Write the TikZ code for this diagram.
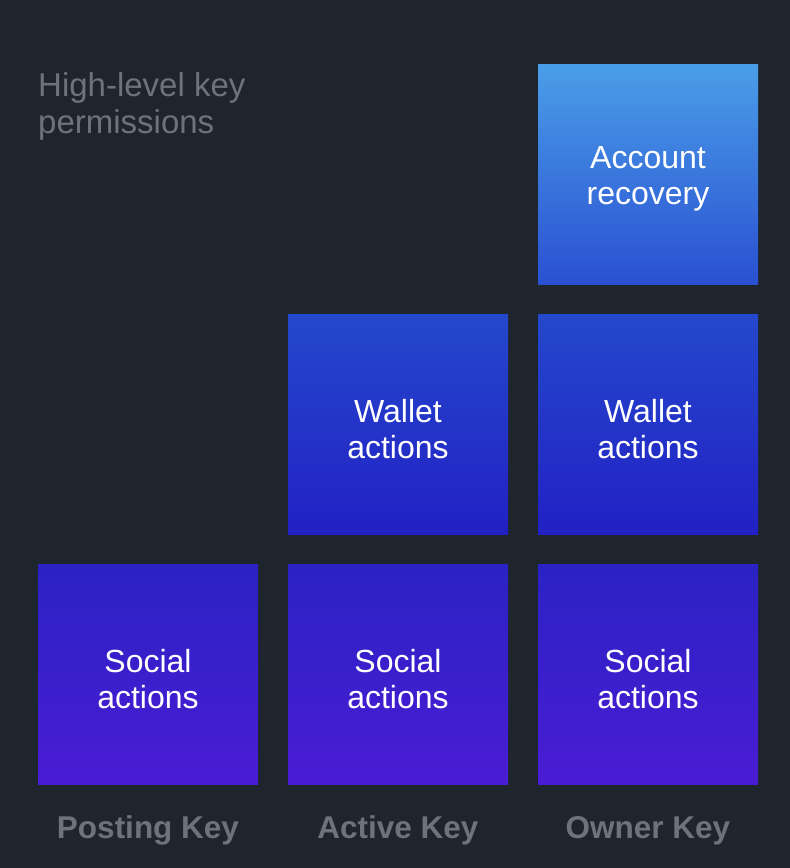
\documentclass[tikz,border=0pt]{standalone}
\usepackage{fontspec}
\setmainfont{Liberation Sans}
\definecolor{bg}{HTML}{1F252C}
\definecolor{lbl}{HTML}{6C737A}
\definecolor{aTop}{HTML}{4A9EE8}
\definecolor{aBot}{HTML}{2A50D2}
\definecolor{wTop}{HTML}{2448CC}
\definecolor{wBot}{HTML}{2220C4}
\definecolor{sTop}{HTML}{2A22C4}
\definecolor{sBot}{HTML}{4A1CD4}
\tikzset{
  box/.style={minimum size=220pt, inner sep=0pt},
  boxtext/.style={inner sep=0pt, align=center, text=white,
    font=\fontsize{32}{36}\selectfont},
  acct/.style={box, top color=aTop, bottom color=aBot},
  wallet/.style={box, top color=wTop, bottom color=wBot},
  social/.style={box, top color=sTop, bottom color=sBot},
  keylabel/.style={anchor=base, text=lbl, font=\fontsize{31.5}{36}\selectfont\bfseries, inner sep=0pt},
  title/.style={anchor=base west, text=lbl, align=left, inner sep=0pt, font=\fontsize{33}{37}\selectfont}
}
\begin{document}
\begin{tikzpicture}[x=1pt, y=-1pt]
\fill[bg] (0,0) rectangle (790,868);
\useasboundingbox (0,0) rectangle (790,868);
\node[title] (t) at (38,133) {High-level key\\permissions};
\node[acct] (ar) at (648,174) {};
\node[wallet] (wa) at (398,424) {};
\node[wallet] (wo) at (648,424) {};
\node[social] (sp) at (148,674) {};
\node[social] (sa) at (398,674) {};
\node[social] (so) at (648,674) {};
\node[boxtext] (art) at ([yshift=-5pt]ar.center) {Account\\recovery};
\node[boxtext] (wat) at ([yshift=-5pt]wa.center) {Wallet\\actions};
\node[boxtext] (wot) at ([yshift=-5pt]wo.center) {Wallet\\actions};
\node[boxtext] (spt) at ([yshift=-5pt]sp.center) {Social\\actions};
\node[boxtext] (sat) at ([yshift=-5pt]sa.center) {Social\\actions};
\node[boxtext] (sot) at ([yshift=-5pt]so.center) {Social\\actions};
\node[keylabel] (kp) at (148,838) {Posting Key};
\node[keylabel] (ka) at (398,838) {Active Key};
\node[keylabel] (ko) at (648,838) {Owner Key};
\end{tikzpicture}
\end{document}
